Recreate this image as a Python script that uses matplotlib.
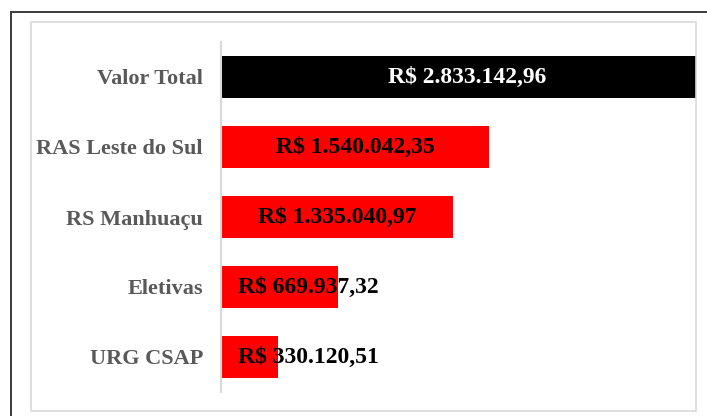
import matplotlib
matplotlib.use("Agg")
import matplotlib.pyplot as plt
from matplotlib.patches import Rectangle
from matplotlib.transforms import offset_copy

categorias = ["Valor Total", "RAS Leste do Sul", "RS Manhuaçu", "Eletivas", "URG CSAP"]
valores = [2833142.96, 1540042.35, 1335040.97, 669937.32, 330120.51]
cores = ["#000000", "#ff0000", "#ff0000", "#ff0000", "#ff0000"]

GRAY = "#595959"
LINE = "#d9d9d9"


def brl(v):
    s = f"{v:,.2f}".replace(",", "X").replace(".", ",").replace("X", ".")
    return "R$ " + s


plt.rcParams["font.family"] = ["Liberation Serif", "DejaVu Serif"]

fig = plt.figure(figsize=(7.07, 4.16), dpi=100, facecolor="white")

# outer dark frame (cropped on right/bottom)
fig.patches.append(Rectangle((11 / 707, -0.05), 1.2, 1 - 12 / 416 + 0.05,
                             transform=fig.transFigure, fill=False,
                             edgecolor="#3a3a3a", lw=1.4))
# inner chart panel
fig.patches.append(Rectangle((31 / 707, 5 / 416), (696 - 31) / 707, (411 - 22) / 416,
                             transform=fig.transFigure, fill=False,
                             edgecolor=LINE, lw=1.2))

ax = fig.add_axes([221 / 707, 24 / 416, (696 - 221) / 707, (392 - 42) / 416])
y = range(len(categorias))
ax.barh(y, valores, color=cores, height=0.59)
ax.set_ylim(len(categorias) - 0.5, -0.5)
ax.set_xlim(0, 2.73e6)

for sp in ["top", "right", "bottom"]:
    ax.spines[sp].set_visible(False)
ax.spines["left"].set_color(LINE)
ax.spines["left"].set_linewidth(1.5)
ax.set_xticks([])
ax.set_yticks(list(y))
ax.set_yticklabels(categorias, fontsize=16, fontweight="bold", color=GRAY)
ax.tick_params(axis="y", length=0, pad=13)

# value labels centred on the bar; pushed to the left edge when the bar is too short
renderer = fig.canvas.get_renderer()
ax_left = ax.transAxes.transform((0, 0))[0]
for i, v in enumerate(valores):
    txt_color = "white" if i == 0 else "black"
    t = ax.text(v / 2, i, brl(v), ha="center", va="center", fontsize=17,
                fontweight="bold", color=txt_color)
    bb = t.get_window_extent(renderer)
    if bb.x0 < ax_left + 17:
        t.set_x(0)
        t.set_ha("left")
        t.set_transform(offset_copy(ax.transData, fig=fig, x=17, y=0, units="dots"))

fig.savefig("out.png", dpi=100, facecolor="white")
